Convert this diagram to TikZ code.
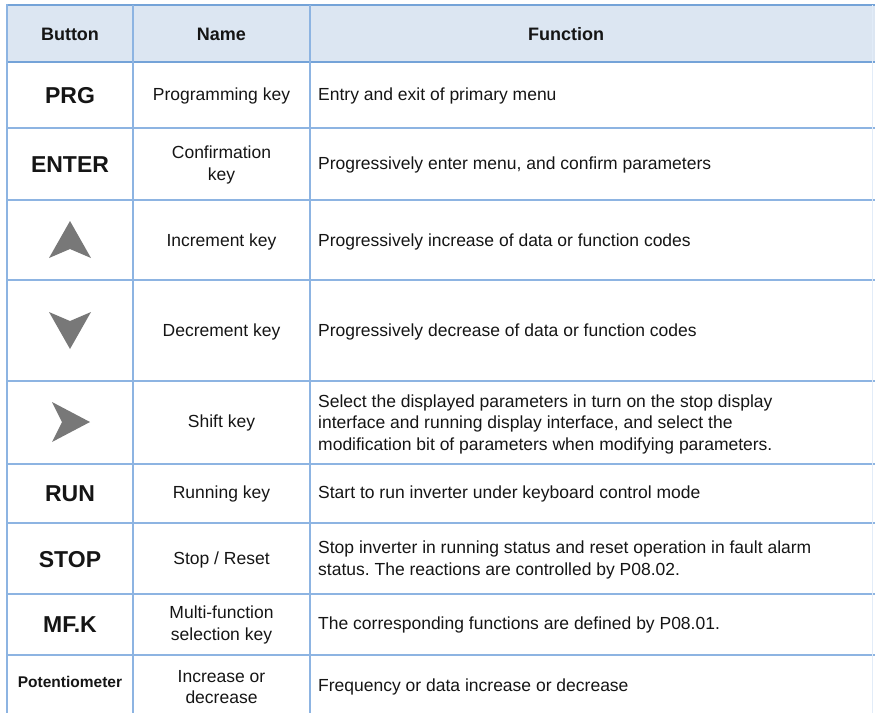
\documentclass[tikz,border=0pt]{standalone}
\usepackage{fontspec}
\setmainfont{Liberation Sans}
\definecolor{gridblue}{HTML}{8DB4E2}
\definecolor{headline}{HTML}{74A3D8}
\definecolor{headfill}{HTML}{DCE6F2}
\definecolor{icongray}{HTML}{787878}
\definecolor{txt}{HTML}{151515}
\frenchspacing
\begin{document}
\begin{tikzpicture}[x=1pt,y=-1pt,
  grid/.style={draw=gridblue,line width=1.1pt},
  hgrid/.style={draw=headline,line width=1.6pt},
  cell/.style={font=\fontsize{17.5}{21.5}\selectfont,text=txt,inner sep=0pt,align=center},
  func/.style={cell,anchor=west,align=left},
  head/.style={cell,font=\fontsize{18}{21.5}\selectfont\bfseries},
  btn/.style={cell,font=\fontsize{23}{26}\selectfont\bfseries},
  icon/.style={fill=icongray}]
\useasboundingbox (0,0) rectangle (875,713);
% header fill
\fill[headfill] (7,5) rectangle (875,62);
% horizontal grid lines
\foreach \yy in {128,200,280,381,464,523,594,655}
  \draw[grid] (7,\yy) -- (875,\yy);
\draw[hgrid] (7,5) -- (875,5);
\draw[hgrid] (7,62) -- (875,62);
% vertical grid lines
\draw[grid,line width=1.5pt] (7,4.2) -- (7,713);
\draw[grid] (133,5) -- (133,713);
\draw[grid] (310,5) -- (310,713);
\draw[draw=gridblue!25,line width=0.8pt] (872,5) -- (872,713);
% header
\node[head] (hb) at (70,34) {Button};
\node[head] (hn) at (221.5,34) {Name};
\node[head] (hf) at (566,34) {Function};
% PRG
\node[btn] (b1) at (70,96) {PRG};
\node[cell] (n1) at (221.5,96) {Programming key};
\node[func] (f1) at (318,96) {Entry and exit of primary menu};
% ENTER
\node[btn] (b2) at (70,165) {ENTER};
\node[cell] (n2) at (221.5,165) {Confirmation\\key};
\node[func] (f2) at (318,165) {Progressively enter menu, and confirm parameters};
% Increment
\fill[icon] (70,221) -- (91,258) -- (70,249) -- (49,258) -- cycle;
\node[cell] (n3) at (221.5,242) {Increment key};
\node[func] (f3) at (318,242) {Progressively increase of data or function codes};
% Decrement
\fill[icon] (70,349) -- (91,312) -- (70,321) -- (49,312) -- cycle;
\node[cell] (n4) at (221.5,332) {Decrement key};
\node[func] (f4) at (318,332) {Progressively decrease of data or function codes};
% Shift
\fill[icon] (90,422) -- (52,402) -- (62,422) -- (52,442) -- cycle;
\node[cell] (n5) at (221.5,423) {Shift key};
\node[func] (f5) at (318,424) {Select the displayed parameters in turn on the stop display\\interface and running display interface, and select the\\modification bit of parameters when modifying parameters.};
% RUN
\node[btn] (b6) at (70,494) {RUN};
\node[cell] (n6) at (221.5,494) {Running key};
\node[func] (f6) at (318,494) {Start to run inverter under keyboard control mode};
% STOP
\node[btn] (b7) at (70,560) {STOP};
\node[cell] (n7) at (221.5,560) {Stop / Reset};
\node[func] (f7) at (318,560) {Stop inverter in running status and reset operation in fault alarm\\status. The reactions are controlled by P08.02.};
% MF.K
\node[btn] (b8) at (70,625) {MF.K};
\node[cell] (n8) at (221.5,625) {Multi-function\\selection key};
\node[func] (f8) at (318,625) {The corresponding functions are defined by P08.01.};
% Potentiometer
\node[cell,font=\fontsize{15.5}{18}\selectfont\bfseries] (b9) at (70,682) {Potentiometer};
\node[cell] (n9) at (221.5,687) {Increase or\\decrease};
\node[func] (f9) at (318,687) {Frequency or data increase or decrease};
\end{tikzpicture}
\end{document}
